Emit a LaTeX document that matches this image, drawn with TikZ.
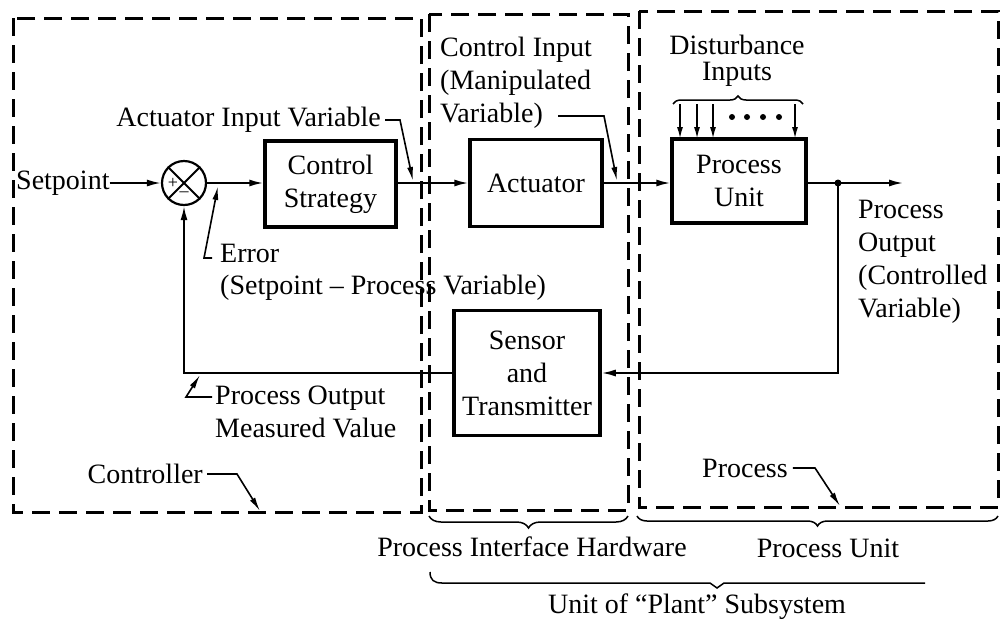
\documentclass[tikz,border=0pt]{standalone}
\usepackage{fontspec}
\setmainfont{Liberation Serif}
\usetikzlibrary{arrows.meta,decorations.pathreplacing,calc}
\begin{document}
\begin{tikzpicture}[x=1pt,y=-1pt,
  lbl/.style={inner sep=0pt,font=\fontsize{28}{33}\selectfont},
  blk/.style={draw,line width=3.5pt,inner sep=0pt,font=\fontsize{28}{33}\selectfont,align=center},
  grp/.style={draw,line width=3pt,dash pattern=on 18pt off 9pt},
  sig/.style={line width=1.8pt},
  arr/.style={sig,-{Latex[length=14pt,width=7pt]}},
  ldr/.style={line width=1.6pt,-{Latex[length=14pt,width=6pt]}},
  brc/.style={line width=1.5pt,decorate,decoration={brace,amplitude=#1}},
  brc/.default=10pt]
\useasboundingbox (0,0) rectangle (1000,619);

% groups
\draw[grp] (13,18) rectangle (421,512);
\draw[grp] (429,14) rectangle (628,510);
\draw[grp] (639,11) rectangle (998,507);

% blocks
\node[draw,circle,line width=2.2pt,minimum size=44pt,inner sep=0pt] (sum) at (184,183) {};
\draw[line width=2pt] (sum.north east) -- (sum.south west) (sum.north west) -- (sum.south east);
\node[inner sep=0pt,font=\fontsize{18}{18}\selectfont] (plus) at ($(sum.center)+(-11,0)$) {+};
\node[inner sep=0pt,font=\fontsize{18}{18}\selectfont] (minus) at ($(sum.center)+(0,11)$) {–};
\node[blk,minimum width=131pt,minimum height=86pt] (cs) at (330.5,184) {Control\\Strategy};
\node[blk,minimum width=132pt,minimum height=87pt] (act) at (536,183) {Actuator};
\node[blk,minimum width=134pt,minimum height=84pt] (pu) at (739,181) {Process\\Unit};
\node[blk,minimum width=146pt,minimum height=125pt] (st) at (527,373) {Sensor\\and\\Transmitter};

% signal path
\node[lbl,anchor=west] (sp) at (16,183) {Setpoint};
\draw[arr] (sp.east) -- (sum.west);
\draw[arr] (sum.east) -- (cs.west |- sum.east);
\draw[arr] (cs.east |- act.west) -- (act.west);
\draw[arr] (act.east) -- (pu.west |- act.east);
\coordinate (j) at (838,183);
\coordinate (out) at (903,183);
\coordinate (fb) at (838,373);
\coordinate (fc) at (184,373);
\draw[sig] (pu.east |- j) -- (j);
\fill (j) circle (3.5pt);
\draw[arr] (j) -- (out);
\draw[arr] (j) -- (fb) -- (st.east);
\draw[arr] (st.west) -- (fc) -- (sum.south);

% disturbances
\node[lbl] (dist) at (737,45) {Disturbance};
\node[lbl] (inp) at (737,74) {Inputs};
\draw[brc=8pt] (673,104) -- (803,104);
\foreach \x in {680,697,713,795} \draw[sig,-{Latex[length=12pt,width=6pt]}] (\x,104) -- (\x,139);
\foreach \x in {732,747,763,779} \fill (\x,117) circle (3pt);

% labels with leaders
\node[lbl,anchor=east] (aiv) at (381,120) {Actuator Input Variable};
\coordinate (aivk) at (400,120);
\coordinate (aivt) at (413,181);
\draw[ldr] ([xshift=4pt]aiv.east) -- (aivk) -- (aivt);

\node[lbl,anchor=west,align=left] (ci) at (440,83) {Control Input\\(Manipulated\\Variable)};
\coordinate (cik1) at (558,116);
\coordinate (cik2) at (604,116);
\coordinate (cit) at (617,181);
\draw[ldr] (cik1) -- (cik2) -- (cit);

\node[lbl,anchor=west] (err) at (220,253) {Error};
\node[lbl,anchor=west] (spv) at (220,288) {(Setpoint – Process Variable)};
\coordinate (e1) at (212,258);
\coordinate (e2) at (204,258);
\coordinate (e3) at (218,186);
\draw[ldr] (e1) -- (e2) -- (e3);

\node[lbl,anchor=west,align=left] (po) at (858,262) {Process\\Output\\(Controlled\\Variable)};

\node[lbl,anchor=west,align=left] (pomv) at (215,412) {Process Output\\Measured Value};
\coordinate (m1) at (212,397);
\coordinate (m2) at (186,397);
\coordinate (m3) at (200,375);
\draw[ldr] (m1) -- (m2) -- (m3);

\node[lbl,anchor=east] (ctl) at (203,474) {Controller};
\coordinate (c1) at (237,474);
\coordinate (c2) at (260,511);
\draw[ldr] ([xshift=4pt]ctl.east) -- (c1) -- (c2);

\node[lbl,anchor=west] (prc) at (702,468) {Process};
\coordinate (p1) at (815,468);
\coordinate (p2) at (840,506);
\draw[ldr] ([xshift=5pt]prc.east) -- (p1) -- (p2);

% bottom braces
\draw[brc=12pt] (628,516) -- (429,516);
\draw[brc=10pt] (998,516) -- (637,516);
\draw[line width=1.5pt] (430,572) .. controls (430,580) and (434,583) .. (442,583) -- (710,583) -- (717,588) -- (724,583) -- (925,583);

\node[lbl] (pih) at (532,547) {Process Interface Hardware};
\node[lbl] (pun) at (828,548) {Process Unit};
\node[lbl] (ups) at (697,607) {Unit of “Plant” Subsystem};
\end{tikzpicture}
\end{document}
